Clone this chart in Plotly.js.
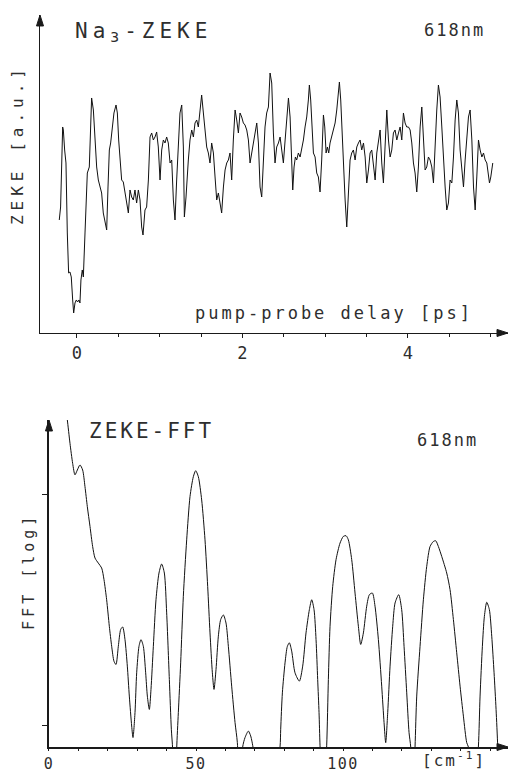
<!DOCTYPE html>
<html>
<head>
<meta charset="utf-8">
<script src="https://cdn.plot.ly/plotly-3.0.1.min.js"></script>
<style>html,body{margin:0;padding:0;background:#fff;}#chart{width:510px;height:771px;}</style>
</head>
<body>
<div id="chart"></div>
<script>
// Top panel: Na3 ZEKE signal vs pump-probe delay
const delayPs = [-0.214,-0.198,-0.173,-0.165,-0.149,-0.133,-0.117,-0.101,-0.085,-0.069,-0.052,-0.040,-0.024,-0.008,0.008,0.024,0.036,0.048,0.064,0.077,0.097,0.109,0.125,0.149,0.165,0.177,0.198,0.218,0.238,0.258,0.278,0.298,0.318,0.339,0.359,0.375,0.391,0.407,0.431,0.447,0.472,0.488,0.504,0.520,0.540,0.560,0.580,0.601,0.621,0.641,0.661,0.681,0.701,0.721,0.742,0.762,0.782,0.798,0.822,0.842,0.863,0.883,0.903,0.923,0.943,0.963,0.983,1.004,1.024,1.044,1.064,1.084,1.104,1.125,1.145,1.165,1.185,1.205,1.225,1.245,1.266,1.286,1.298,1.318,1.346,1.366,1.387,1.407,1.427,1.447,1.467,1.487,1.507,1.528,1.548,1.568,1.588,1.608,1.628,1.649,1.669,1.689,1.709,1.729,1.749,1.770,1.790,1.810,1.830,1.850,1.870,1.890,1.911,1.931,1.951,1.971,1.991,2.011,2.031,2.052,2.072,2.092,2.112,2.132,2.152,2.173,2.193,2.213,2.233,2.253,2.273,2.293,2.314,2.334,2.354,2.374,2.394,2.414,2.435,2.455,2.475,2.495,2.516,2.536,2.556,2.576,2.596,2.608,2.624,2.640,2.656,2.676,2.697,2.717,2.737,2.757,2.777,2.797,2.809,2.825,2.842,2.858,2.878,2.898,2.918,2.938,2.958,2.979,2.995,3.011,3.027,3.043,3.059,3.079,3.100,3.120,3.140,3.160,3.172,3.188,3.204,3.220,3.241,3.261,3.281,3.301,3.321,3.341,3.362,3.382,3.402,3.422,3.442,3.463,3.483,3.503,3.523,3.543,3.563,3.583,3.604,3.624,3.644,3.664,3.684,3.704,3.724,3.745,3.765,3.785,3.805,3.825,3.845,3.866,3.886,3.906,3.926,3.946,3.966,3.986,4.007,4.027,4.047,4.067,4.087,4.107,4.127,4.148,4.168,4.188,4.208,4.228,4.248,4.268,4.289,4.309,4.329,4.349,4.369,4.389,4.410,4.430,4.450,4.470,4.490,4.510,4.531,4.551,4.571,4.591,4.611,4.631,4.652,4.672,4.692,4.712,4.732,4.752,4.773,4.793,4.813,4.833,4.853,4.873,4.894,4.914,4.934,4.954,4.974,4.986,5.002,5.018,5.026];
const zekeSignal = [1.13,1.26,2.06,2.03,1.83,1.70,1.00,0.60,0.61,0.56,0.33,0.20,0.30,0.33,0.31,0.33,0.30,0.53,0.63,0.56,1.00,1.36,1.60,1.66,2.16,2.35,2.23,1.93,1.66,1.53,1.46,1.40,1.20,1.10,1.03,1.46,1.83,1.90,2.06,2.20,2.28,2.20,1.93,1.70,1.53,1.51,1.40,1.26,1.20,1.43,1.36,1.33,1.43,1.30,1.43,1.33,1.06,0.98,1.23,1.26,1.53,1.96,2.00,1.93,1.96,2.01,1.86,1.53,1.83,1.93,1.90,1.96,1.90,1.70,1.73,1.33,1.13,1.53,1.93,2.20,2.28,1.86,1.16,1.36,1.73,1.93,2.03,1.96,2.10,2.13,2.06,2.23,2.38,2.20,2.00,1.86,1.80,1.70,1.90,1.80,1.56,1.33,1.40,1.30,1.20,1.46,1.63,1.70,1.73,1.80,1.53,1.93,2.23,2.13,2.00,2.20,2.16,2.10,2.08,2.03,1.93,1.70,1.80,1.90,2.00,2.10,1.90,1.46,1.36,1.66,2.06,2.20,2.26,2.60,2.50,2.00,1.70,1.86,1.90,1.96,1.83,1.70,1.93,2.13,2.35,2.16,1.73,1.43,1.66,1.76,1.73,1.80,1.76,1.83,1.93,2.06,2.16,2.33,2.48,2.33,2.00,1.80,1.76,1.60,1.56,1.41,1.73,2.18,2.06,1.80,1.86,1.80,1.90,1.96,2.03,2.10,2.23,2.38,2.51,2.33,2.00,1.60,1.33,1.06,1.40,1.73,1.80,1.83,1.73,1.86,1.90,1.93,1.83,1.90,1.76,1.50,1.63,1.80,1.83,1.70,1.53,1.80,1.93,2.03,1.70,1.50,1.86,2.23,1.93,1.76,1.83,2.00,2.03,1.93,2.00,2.06,1.93,2.20,2.10,2.06,2.06,2.03,1.90,1.70,1.60,1.41,1.66,2.06,2.26,1.90,1.63,1.66,1.76,1.73,1.66,1.50,1.90,2.23,2.48,2.36,2.06,1.73,1.46,1.23,1.30,1.53,1.50,1.76,2.13,2.33,2.20,1.83,1.60,1.46,1.73,2.00,2.16,2.23,1.93,1.46,1.23,1.56,1.93,1.83,1.76,1.80,1.73,1.70,1.60,1.50,1.56,1.66,1.70];
const delayTicks = [0, 2, 4];

// Bottom panel: FFT of the ZEKE signal (log amplitude) vs wavenumber
const waveNumber = [5.33,5.78,6.24,7.14,8.05,8.84,9.64,10.54,11.45,12.24,13.04,13.95,14.85,15.65,16.78,17.91,18.71,19.61,20.52,21.32,22.11,22.79,23.58,24.38,25.06,25.85,26.64,27.32,28.12,28.57,29.25,29.82,30.61,31.29,32.09,32.88,33.45,34.13,34.69,35.49,36.39,37.41,38.32,39.23,40.02,40.93,41.61,42.06,42.74,43.42,43.99,44.78,45.69,46.83,47.96,49.09,49.89,50.79,51.93,53.06,53.97,54.76,55.56,56.12,56.80,57.60,58.39,59.30,60.20,61.00,62.13,63.27,64.06,64.97,65.87,66.67,67.80,68.59,69.50,72.0,75.17,78.57,78.80,79.37,80.27,81.07,81.75,82.54,83.67,85.15,86.28,87.41,88.55,89.34,90.14,90.82,91.38,91.84,92.18,93.31,94.44,95.01,95.58,96.49,97.62,98.98,100.11,101.02,101.81,102.95,104.08,105.22,106.01,106.92,108.05,108.96,109.98,110.88,112.02,113.15,113.95,114.51,115.19,115.99,116.89,117.69,118.93,119.95,120.75,121.66,122.45,123.02,123.70,124.49,125.06,126.19,127.32,128.46,129.59,130.73,131.52,132.43,133.56,135.26,136.39,137.53,138.66,139.80,140.93,142.06,142.63,144.33,146.03,146.60,147.39,148.07,148.87,149.77,150.57,151.36,152.04,152.61,153.17];
const fftLog = [2.411,2.368,2.325,2.224,2.137,2.087,2.108,2.130,2.108,2.036,1.949,1.863,1.776,1.726,1.704,1.683,1.632,1.545,1.430,1.343,1.278,1.264,1.343,1.416,1.427,1.372,1.257,1.127,0.997,0.947,1.055,1.228,1.343,1.372,1.343,1.228,1.127,1.069,1.156,1.343,1.545,1.661,1.700,1.661,1.488,1.199,0.983,0.896,0.478,0.896,1.055,1.271,1.560,1.805,1.993,2.079,2.105,2.079,1.978,1.805,1.603,1.401,1.228,1.156,1.242,1.387,1.459,1.479,1.444,1.343,1.170,1.012,0.925,0.622,0.906,0.947,0.975,0.954,0.896,0.622,0.622,0.906,0.983,1.141,1.271,1.343,1.358,1.322,1.228,1.192,1.257,1.401,1.502,1.545,1.502,1.372,1.199,1.055,0.911,0.622,0.911,1.199,1.430,1.603,1.719,1.791,1.820,1.823,1.805,1.719,1.574,1.430,1.351,1.401,1.517,1.567,1.574,1.517,1.372,1.170,1.012,0.925,1.055,1.257,1.430,1.531,1.567,1.502,1.343,1.141,0.968,0.906,0.622,0.906,1.127,1.343,1.545,1.690,1.776,1.798,1.801,1.776,1.733,1.661,1.589,1.459,1.315,1.170,1.040,0.925,0.906,0.622,0.906,1.127,1.343,1.473,1.534,1.502,1.387,1.228,1.069,0.906,0.622];
const waveTicks = [0, 50, 100];
const fftTicks = [1, 2];

const FONT = '"DejaVu Sans Mono", monospace';
const INK = '#1a1a1a';
const TXT = '#2e2e2e';
const sp = (t, ls) => '<span style="letter-spacing:' + ls + 'px">' + t + '</span>';

const traces = [
  {x: delayPs, y: zekeSignal, xaxis: 'x', yaxis: 'y', type: 'scatter', mode: 'lines',
   line: {color: '#111', width: 1}, hoverinfo: 'skip'},
  {x: waveNumber, y: fftLog, xaxis: 'x2', yaxis: 'y2', type: 'scatter', mode: 'lines',
   line: {color: '#111', width: 1, shape: 'spline', smoothing: 0.7}, hoverinfo: 'skip'}
];

const axisCommon = {showgrid: false, zeroline: false, showline: true, linecolor: INK, linewidth: 1.5,
  tickcolor: INK, tickfont: {family: FONT, size: 17, color: TXT}};

// arrowheads at the axis ends (paper coordinates)
const head = (pts) => ({type: 'path', xref: 'paper', yref: 'paper', layer: 'above',
  path: 'M' + pts.map(p => p[0] + ',' + p[1]).join(' L') + ' Z',
  fillcolor: INK, line: {color: INK, width: 1}});
const upHead = (x, y) => head([[x - 0.0075, y - 0.0150], [x, y], [x + 0.0075, y - 0.0150]]);
const rightHead = (x, y) => head([[x - 0.0235, y - 0.0048], [x, y], [x - 0.0235, y + 0.0048]]);

const txt = (text, x, y, xanchor, size, extra) => Object.assign({xref: 'paper', yref: 'paper', x: x, y: y,
  xanchor: xanchor, yanchor: 'middle', showarrow: false, text: text,
  font: {family: FONT, size: size, color: TXT}}, extra || {});

const layout = {
  width: 510, height: 771,
  margin: {l: 40, r: 2, t: 15, b: 24},
  paper_bgcolor: '#fff', plot_bgcolor: '#fff',
  showlegend: false,
  xaxis: Object.assign({}, axisCommon, {domain: [0, 1], anchor: 'y', range: [-0.447, 5.21],
    tickmode: 'array', tickvals: delayTicks, ticktext: delayTicks.map(String), ticks: 'outside', ticklen: 4,
    minor: {dtick: 0.5, tick0: 0, ticks: 'outside', ticklen: 3, tickcolor: INK}}),
  yaxis: Object.assign({}, axisCommon, {domain: [0.5656, 1], anchor: 'x', range: [0, 3.18],
    ticks: '', showticklabels: false}),
  xaxis2: Object.assign({}, axisCommon, {domain: [0.0192, 1], anchor: 'y2', range: [0, 156.1],
    tickmode: 'array', tickvals: waveTicks, ticktext: waveTicks.map(v => sp(String(v), 1.5)), ticks: 'outside', ticklen: 2,
    tickfont: {family: FONT, size: 15, color: TXT},
    minor: {dtick: 10, tick0: 0, ticks: 'outside', ticklen: 2, tickcolor: INK}}),
  yaxis2: Object.assign({}, axisCommon, {domain: [0, 0.4467], anchor: 'x2', range: [0.906, 2.325],
    tickmode: 'array', tickvals: fftTicks, ticks: 'outside', ticklen: 5, showticklabels: false}),
  shapes: [
    upHead(0, 1),
    rightHead(1, 0.5656),
    upHead(0.0192, 0.4467),
    rightHead(1, 0)
  ],
  annotations: [
    txt(sp('Na<sub>3</sub>-ZEKE', 5), 0.0705, 0.9768, 'left', 21),
    txt(sp('618nm', 2), 0.955, 0.9795, 'right', 17),
    txt(sp('pump-probe delay [ps]', 3), 0.9295, 0.5929, 'right', 17),
    txt(sp('ZEKE [a.u.]', 5), -0.0491, 0.8224, 'center', 16, {textangle: -90}),
    txt(sp('ZEKE-FFT', 3), 0.1004, 0.4317, 'left', 21),
    txt(sp('618nm', 2), 0.940, 0.4194, 'right', 17),
    txt(sp('FFT [log]', 4), -0.0235, 0.2392, 'center', 15, {textangle: -90}),
    txt(sp('[cm<sup>-1</sup>]', 2), 0.8846, -0.0165, 'center', 16)
  ]
};

Plotly.newPlot('chart', traces, layout, {staticPlot: true, displayModeBar: false});
</script>
</body>
</html>
